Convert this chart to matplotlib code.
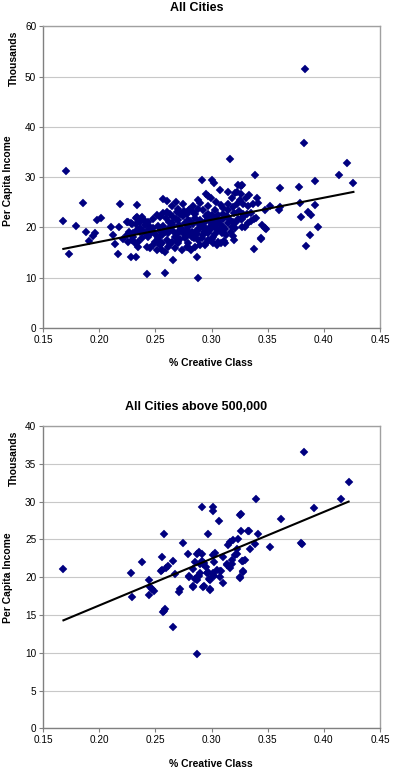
import numpy as np
import matplotlib
matplotlib.use("Agg")
import matplotlib.pyplot as plt
from matplotlib.ticker import FormatStrFormatter, MultipleLocator

plt.rcParams['font.family'] = ['Liberation Sans', 'DejaVu Sans']

# ---- data: share of creative class vs per capita income (thousands) ----
# all cities
all_x = [
    0.170, 0.383, 0.382, 0.316, 0.1857, 0.1679, 0.173, 0.1789, 0.188, 0.196,
    0.1946, 0.191, 0.1982, 0.2015, 0.2101, 0.2121, 0.2187, 0.2175, 0.214, 0.2166,
    0.2332, 0.225, 0.2288, 0.2267, 0.2303, 0.2362, 0.2347, 0.2279, 0.2323, 0.2421,
    0.2332, 0.3387, 0.3268, 0.361, 0.3782, 0.392, 0.4138, 0.4209, 0.4263, 0.3336,
    0.3401, 0.3416, 0.3372, 0.3327, 0.3283, 0.3268, 0.3268, 0.3378, 0.3396, 0.3446,
    0.3476, 0.3437, 0.3378, 0.352, 0.3609, 0.3603, 0.3788, 0.3794, 0.3862, 0.3883,
    0.3921, 0.3945, 0.3877, 0.3841, 0.2912, 0.3001, 0.3024, 0.3075, 0.3143, 0.3238,
    0.3262, 0.2947, 0.2971, 0.2995, 0.2882, 0.2799, 0.2837, 0.2882, 0.2926, 0.2965,
    0.303, 0.306, 0.3105, 0.3149, 0.3194, 0.3223, 0.3253, 0.3283, 0.331, 0.3476,
    0.335, 0.3355, 0.2793, 0.2822, 0.2867, 0.2906, 0.2941, 0.2986, 0.3024, 0.306,
    0.3105, 0.3149, 0.3194, 0.3238, 0.3283, 0.3312, 0.2822, 0.2882, 0.2926, 0.2971,
    0.3015, 0.306, 0.3119, 0.3203, 0.2793, 0.2852, 0.2941, 0.3015, 0.3298, 0.3327,
    0.344, 0.3482, 0.2867, 0.2876, 0.2258, 0.2282, 0.2323, 0.2377, 0.2362, 0.2406,
    0.2436, 0.2451, 0.2481, 0.251, 0.254, 0.257, 0.260, 0.2629, 0.2659, 0.2689,
    0.2718, 0.2748, 0.2778, 0.2793, 0.257, 0.260, 0.2644, 0.2748, 0.2704, 0.2644,
    0.2614, 0.2585, 0.2555, 0.2525, 0.2496, 0.2481, 0.2451, 0.2436, 0.2406, 0.2377,
    0.2347, 0.2317, 0.2288, 0.2258, 0.2243, 0.2303, 0.2332, 0.2718, 0.2748, 0.2763,
    0.2674, 0.2644, 0.2614, 0.2555, 0.2585, 0.254, 0.251, 0.2421, 0.221, 0.2659,
    0.2585, 0.2778, 0.2733, 0.2704, 0.323, 0.326,
    0.262, 0.265, 0.268, 0.271, 0.273, 0.276, 0.278, 0.281, 0.283, 0.285,
    0.288, 0.290, 0.292, 0.294, 0.296, 0.298, 0.300, 0.302, 0.304, 0.306,
    0.308, 0.310, 0.312, 0.314, 0.316, 0.318, 0.320, 0.322, 0.324, 0.326,
    0.257, 0.259, 0.261, 0.263, 0.266, 0.269, 0.272, 0.275, 0.277, 0.280,
    0.284, 0.287, 0.289, 0.291, 0.293, 0.297, 0.299, 0.303, 0.305, 0.309,
    0.311, 0.313, 0.317, 0.319, 0.321, 0.244, 0.246, 0.248, 0.250, 0.252,
    0.254, 0.239, 0.241, 0.236, 0.233, 0.253, 0.256, 0.260, 0.263, 0.267,
    0.270, 0.279, 0.282, 0.290, 0.295, 0.300, 0.305, 0.308, 0.300, 0.295,
    0.285, 0.280, 0.275, 0.270, 0.310, 0.315, 0.318, 0.321, 0.308, 0.304,
    0.297, 0.290, 0.268, 0.283,
]
all_y = [
    31.2, 51.4, 36.7, 33.5, 24.9, 21.3, 14.7, 20.3, 19.0, 18.8,
    18.2, 17.3, 21.4, 21.9, 19.96, 18.4, 24.6, 19.96, 16.6, 14.7,
    24.4, 21.1, 20.6, 18.96, 18.1, 19.1, 16.1, 14.0, 14.1, 10.7,
    22.1, 30.5, 28.4, 27.8, 28.0, 29.2, 30.4, 32.8, 28.9, 26.4,
    25.9, 24.9, 24.7, 24.2, 22.7, 21.7, 20.1, 21.7, 21.9, 20.4,
    19.8, 17.6, 15.6, 24.2, 24.1, 23.5, 24.9, 22.1, 23.1, 22.4,
    24.4, 20.0, 18.4, 16.3, 29.4, 29.4, 28.8, 27.4, 27.0, 28.4,
    28.2, 26.7, 26.2, 25.9, 25.4, 23.4, 23.1, 23.7, 23.4, 22.7,
    23.4, 22.4, 22.7, 23.4, 24.1, 24.7, 25.4, 24.7, 25.9, 23.4,
    22.9, 21.2, 20.1, 19.1, 19.4, 20.4, 19.8, 20.1, 20.75, 19.4,
    20.1, 20.75, 21.1, 21.7, 22.1, 22.7, 18.1, 17.4, 18.4, 17.4,
    18.1, 17.1, 16.8, 17.4, 16.1, 16.0, 16.4, 16.9, 20.1, 20.75,
    17.8, 19.6, 14.0, 10.0, 21.1, 20.75, 21.9, 22.1, 21.1, 20.4,
    21.1, 20.1, 21.7, 22.4, 22.1, 22.9, 23.1, 22.7, 22.1, 23.1,
    22.7, 22.2, 22.7, 21.4, 25.7, 25.2, 24.2, 24.6, 21.4, 20.4,
    19.75, 19.1, 18.4, 17.8, 17.1, 16.4, 15.8, 18.1, 18.8, 17.8,
    17.1, 16.8, 17.4, 17.1, 18.4, 18.8, 19.4, 19.4, 18.8, 17.8,
    18.1, 17.1, 16.1, 15.4, 15.1, 16.4, 15.4, 16.1, 17.6, 13.5,
    10.9, 16.1, 15.4, 16.8, 27.0, 26.6,
    21.0, 20.8, 21.6, 20.5, 19.8, 20.9, 19.5, 21.2, 20.6, 21.8,
    20.9, 21.5, 20.2, 21.0, 19.2, 21.4, 20.6, 21.9, 19.9, 21.2,
    20.4, 21.7, 19.6, 22.2, 21.4, 20.0, 22.8, 21.0, 23.2, 21.6,
    20.3, 21.8, 18.8, 19.5, 19.2, 18.6, 17.6, 19.0, 18.3, 18.8,
    17.9, 18.6, 19.6, 17.9, 19.1, 18.8, 19.7, 18.6, 20.8, 18.9,
    17.3, 18.5, 19.0, 18.3, 19.8, 19.6, 18.9, 19.9, 18.6, 20.3,
    19.3, 19.2, 21.2, 19.9, 20.6, 17.3, 16.9, 17.5, 16.6, 15.9,
    17.2, 16.9, 15.4, 16.5, 16.8, 17.7, 16.5, 16.8, 22.5, 22.3,
    22.6, 23.5, 23.2, 23.6, 23.9, 24.6, 25.8, 26.8, 24.4, 25.1,
    24.3, 24.8, 25.0, 24.2,
]

# cities above 500,000
big_x = [
    0.168, 0.228, 0.238, 0.244, 0.2575, 0.256, 0.2545, 0.2555, 0.261, 0.259,
    0.266, 0.267, 0.2745, 0.2786, 0.2795, 0.2851, 0.2866, 0.2887, 0.2914, 0.2896,
    0.2917, 0.2934, 0.2917, 0.2964, 0.2946, 0.297, 0.3015, 0.3015, 0.3024, 0.301,
    0.303, 0.3065, 0.3074, 0.3098, 0.3136, 0.3145, 0.3163, 0.3193, 0.3208, 0.3184,
    0.3163, 0.3234, 0.3252, 0.3261, 0.3261, 0.3223, 0.3229, 0.3279, 0.3297, 0.3276,
    0.332, 0.3335, 0.3341, 0.3386, 0.3392, 0.3416, 0.352, 0.3615, 0.3796, 0.3802,
    0.382, 0.3915, 0.415, 0.422, 0.2293, 0.244, 0.245, 0.2465, 0.2486, 0.2563,
    0.2575, 0.2587, 0.2652, 0.2706, 0.2718, 0.280, 0.283, 0.2848, 0.2872, 0.289,
    0.290, 0.2872, 0.2929, 0.2956, 0.298, 0.2985, 0.3015, 0.3024, 0.3074, 0.3098,
    0.308, 0.325, 0.328, 0.2837, 0.2867, 0.2926, 0.2985, 0.3015, 0.3045, 0.3134,
    0.3179, 0.3268, 0.3253, 0.2831, 0.2926, 0.2985,
]
big_y = [
    21.1, 20.6, 22.0, 19.7, 25.7, 22.7, 20.8, 20.9, 21.5, 21.2,
    22.2, 20.4, 24.5, 23.1, 20.0, 22.0, 23.1, 23.3, 23.1, 21.8,
    22.2, 21.9, 29.25, 25.75, 21.3, 20.7, 29.25, 28.7, 22.0, 22.9,
    23.2, 27.4, 20.8, 22.65, 21.7, 24.2, 24.65, 24.9, 23.0, 22.3,
    21.2, 25.1, 28.2, 28.4, 26.1, 23.8, 23.1, 22.2, 22.3, 20.75,
    26.1, 26.1, 23.8, 24.4, 30.35, 25.75, 24.0, 27.7, 24.55, 24.35,
    36.6, 29.1, 30.3, 32.65, 17.35, 17.7, 18.7, 18.45, 18.2, 15.4,
    15.6, 15.85, 13.4, 18.05, 18.45, 20.2, 18.9, 19.8, 19.6, 20.1,
    20.5, 9.9, 18.9, 20.6, 19.8, 18.45, 20.6, 20.2, 20.0, 19.3,
    20.8, 20.0, 20.8, 21.1, 20.0, 21.8, 19.6, 20.25, 20.9, 21.6,
    21.8, 22.2, 19.9, 18.7, 18.7, 18.35,
]

# linear trend lines as drawn in the original (slope, intercept)
all_fit = (43.9, 8.32)
big_fit = (61.8, 3.92)

titles = ["All Cities", "All Cities above 500,000"]
y_max = [60, 40]
y_step = [10, 5]

fig = plt.figure(figsize=(3.93, 7.73), dpi=100)

# axes rectangles in figure fractions
ax_top = fig.add_axes([0.110, 0.576, 0.857, 0.390])
ax_bot = fig.add_axes([0.110, 0.0576, 0.857, 0.3913])

panels = [(ax_top, all_x, all_y, all_fit), (ax_bot, big_x, big_y, big_fit)]
title_y = [0.990, 0.4735]
xlabel_y = [0.5304, 0.0116]
ylabel_y = [0.766, 0.253]
thousands_y = [0.925, 0.407]

for i, (ax, xs, ys, fit) in enumerate(panels):
    ax.plot(xs, ys, linestyle='none', marker='D', markersize=4.3,
            markerfacecolor='#000080', markeredgecolor='#000080',
            markeredgewidth=0.3, zorder=3)

    # trend line over the data range
    xx = np.array([min(xs), max(xs)])
    ax.plot(xx, fit[0] * xx + fit[1], color='black', linewidth=1.5, zorder=4)

    ax.set_xlim(0.15, 0.45)
    ax.set_ylim(0, y_max[i])
    ax.xaxis.set_major_locator(MultipleLocator(0.05))
    ax.xaxis.set_major_formatter(FormatStrFormatter('%.2f'))
    ax.yaxis.set_major_locator(MultipleLocator(y_step[i]))

    ax.yaxis.grid(True, color='#c8c8c8', linewidth=0.8)
    ax.set_axisbelow(True)
    for side in ['left', 'bottom', 'right', 'top']:
        ax.spines[side].set_color('#a0a0a0')
        ax.spines[side].set_linewidth(1.0)
    ax.spines['left'].set_color('#808080')
    ax.spines['bottom'].set_color('#808080')
    ax.tick_params(axis='both', direction='out', length=3, width=0.8,
                   color='#808080', labelsize=7.2, pad=2)

    fig.text(0.5, title_y[i], titles[i], ha='center', va='center',
             fontsize=9, fontweight='bold')
    fig.text(0.537, xlabel_y[i], '% Creative Class', ha='center',
             va='center', fontsize=7.5, fontweight='bold')

    # y label plus the "Thousands" display-unit tag like Excel
    fig.text(0.020, ylabel_y[i], 'Per Capita Income', rotation=90,
             ha='center', va='center', fontsize=7.5, fontweight='bold')
    fig.text(0.036, thousands_y[i], 'Thousands', rotation=90,
             ha='center', va='center', fontsize=7.5, fontweight='bold')

fig.savefig('out.png', dpi=100)
